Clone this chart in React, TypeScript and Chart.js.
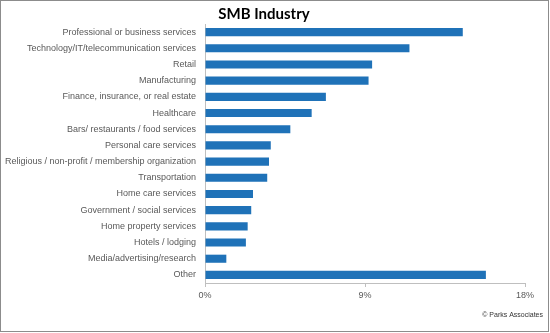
import React, { useEffect, useRef } from "react";
import { Chart, registerables } from "chart.js";
Chart.register(...registerables);

const categories = [
  "Professional or business services",
  "Technology/IT/telecommunication services",
  "Retail",
  "Manufacturing",
  "Finance, insurance, or real estate",
  "Healthcare",
  "Bars/ restaurants / food services",
  "Personal care services",
  "Religious / non-profit / membership organization",
  "Transportation",
  "Home care services",
  "Government / social services",
  "Home property services",
  "Hotels / lodging",
  "Media/advertising/research",
  "Other",
];
const values = [14.5, 11.5, 9.4, 9.2, 6.8, 6.0, 4.8, 3.7, 3.6, 3.5, 2.7, 2.6, 2.4, 2.3, 1.2, 15.8];
const xTicks = [0, 9, 18];
const titleText = "SMB Industry";
const footerText = "© Parks Associates";

const FONT = "'Liberation Sans', Arial, sans-serif";
const TITLE_FONT = "Lato, 'Liberation Sans', sans-serif";

const decor = {
  id: "decor",
  afterDraw(chart: any) {
    const ctx = chart.ctx;
    ctx.save();
    ctx.strokeStyle = "#8c8c8c";
    ctx.lineWidth = 1;
    ctx.strokeRect(0.5, 0.5, 548, 331);
    ctx.fillStyle = "#000";
    ctx.font = `bold 15px ${TITLE_FONT}`;
    ctx.textAlign = "center";
    ctx.textBaseline = "alphabetic";
    ctx.fillText(titleText, 264, 18.5);
    ctx.font = `7px ${FONT}`;
    ctx.fillStyle = "#333";
    ctx.textAlign = "right";
    ctx.textBaseline = "middle";
    ctx.fillText(footerText, 543, 315);
    ctx.restore();
  },
};

export default function App() {
  const ref = useRef<HTMLCanvasElement>(null);
  useEffect(() => {
    const chart = new Chart(ref.current!, {
      type: "bar",
      data: {
        labels: categories,
        datasets: [
          {
            data: values,
            backgroundColor: "#1f72b8",
            borderWidth: 0,
            barPercentage: 0.5,
            categoryPercentage: 1,
          },
        ],
      },
      options: {
        indexAxis: "y",
        animation: false,
        responsive: false,
        layout: { padding: { left: 0, right: 25, top: 24, bottom: 0 } },
        plugins: { legend: { display: false }, tooltip: { enabled: false }, title: { display: false } },
        scales: {
          x: {
            min: 0,
            max: 18,
            afterBuildTicks: (s: any) => {
              s.ticks = xTicks.map((v) => ({ value: v }));
            },
            afterFit: (s: any) => {
              s.height = 50;
            },
            ticks: {
              callback: (v: any) => v + "%",
              color: "#595959",
              font: { family: FONT, size: 9 },
              padding: 3,
              maxRotation: 0,
            },
            grid: { display: true, drawOnChartArea: false, drawTicks: true, tickLength: 4, color: "#bfbfbf" },
            border: { display: true, color: "#bfbfbf" },
          },
          y: {
            afterFit: (s: any) => {
              s.width = 205;
            },
            ticks: {
              color: "#595959",
              font: { family: FONT, size: 9 },
              padding: 9,
              autoSkip: false,
            },
            grid: { display: false, drawTicks: false },
            border: { display: true, color: "#bfbfbf" },
          },
        },
      },
      plugins: [decor],
    });
    return () => chart.destroy();
  }, []);
  return (
    <div style={{ position: "absolute", left: 0, top: 0, width: 550, height: 333, background: "#fff" }}>
      <canvas ref={ref} width={550} height={333} style={{ display: "block" }} />
    </div>
  );
}
